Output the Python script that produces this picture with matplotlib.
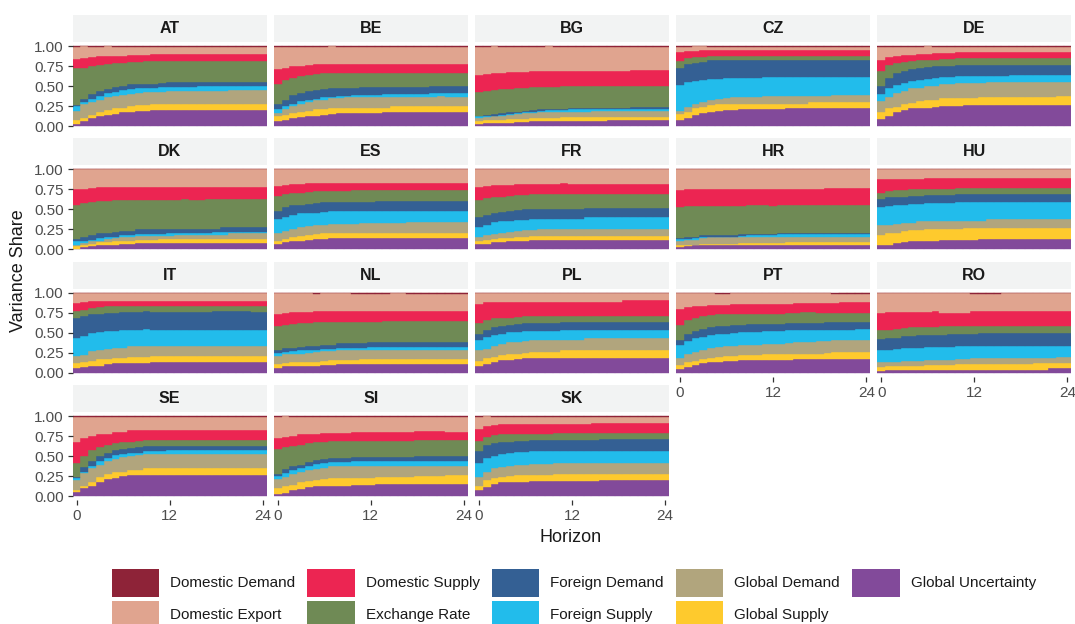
"""Forecast error variance decomposition by country, stacked by shock."""

import matplotlib.pyplot as plt
import numpy as np
from matplotlib.patches import Patch

plt.rcParams.update({
    "font.family": ["Liberation Sans", "DejaVu Sans"],
    "font.size": 11,
})

HORIZON = np.arange(25)

# Stacking order, bottom to top.
SHOCKS = [
    "Global Uncertainty", "Global Supply", "Global Demand", "Foreign Supply",
    "Foreign Demand", "Exchange Rate", "Domestic Supply", "Domestic Export",
    "Domestic Demand",
]
COLORS = {
    "Domestic Demand": "#8E2338",
    "Domestic Export": "#E0A48F",
    "Domestic Supply": "#EC2552",
    "Exchange Rate": "#6F8A55",
    "Foreign Demand": "#346094",
    "Foreign Supply": "#22BCEB",
    "Global Demand": "#B1A57D",
    "Global Supply": "#FECA2D",
    "Global Uncertainty": "#824A9A",
}

# Cumulative variance share (%) at horizons 0..24, read as the top of each
# band: Global Uncertainty, +Global Supply, +Global Demand, +Foreign Supply,
# +Foreign Demand, +Exchange Rate, +Domestic Supply, +Domestic Export.
# Domestic Demand fills the rest up to 100.
AT = [
    "3 6 10 12 14 15 17 18 19 19 20 20 20 20 20 20 20 20 20 20 20 20 20 20 20",
    "7 10 14 17 20 22 23 25 26 26 27 27 27 27 27 28 28 28 28 28 28 28 28 28 28",
    "19 27 30 33 36 37 39 40 41 42 43 43 44 44 44 44 44 44 44 44 45 45 45 45 45",
    "25 30 34 37 41 43 45 46 47 48 48 49 49 49 49 49 50 50 50 50 50 50 50 50 50",
    "26 34 40 44 46 49 50 52 52 53 53 54 55 55 55 55 55 55 55 55 55 55 55 55 55",
    "72 73 75 76 77 79 79 80 80 81 81 81 81 81 81 81 81 81 81 81 81 81 81 81 81",
    "84 85 86 87 87 88 88 89 89 89 90 90 90 90 90 90 90 90 90 90 90 90 90 90 90",
    "99 100 99 99 100 99 99 99 99 99 99 99 99 99 99 99 99 99 99 99 99 99 99 99 99",
]
BE = [
    "6 8 10 11 13 13 14 15 16 16 16 16 16 16 17 17 17 17 17 17 17 17 17 17 17",
    "13 14 16 18 19 21 21 22 23 23 23 23 23 23 23 25 25 25 25 25 25 25 25 25 25",
    "16 21 25 28 30 33 33 35 35 36 36 36 36 36 36 36 36 36 36 36 36 37 36 36 36",
    "21 25 28 31 33 34 36 36 38 38 39 39 39 39 40 40 40 40 40 40 41 41 41 41 41",
    "27 33 39 41 44 45 46 47 48 48 48 49 49 49 49 49 49 49 49 49 50 50 50 50 50",
    "53 58 60 63 64 65 66 66 66 66 66 66 66 66 66 66 66 66 66 66 66 66 66 66 66",
    "71 72 75 75 76 77 77 77 77 77 77 77 78 78 78 78 78 78 78 78 78 78 78 78 78",
    "99 99 99 99 99 99 99 100 99 99 99 99 99 99 99 99 99 99 99 99 99 99 99 99 99",
]
BG = [
    "3 4 4 4 4 5 5 6 6 6 6 6 6 6 6 6 6 7 7 7 7 7 7 7 7",
    "6 7 8 8 9 9 9 10 10 10 10 11 11 11 11 11 11 11 11 11 11 11 11 11 11",
    "10 11 12 13 14 15 16 16 17 17 17 18 18 18 18 19 19 19 19 19 19 19 19 19 19",
    "12 12 13 14 15 16 17 18 19 20 20 20 21 21 21 21 21 21 21 21 21 21 21 21 21",
    "13 14 15 16 17 18 19 20 21 21 21 21 22 22 22 22 23 23 23 23 24 24 24 24 24",
    "43 44 45 46 46 47 48 49 49 49 49 50 50 50 50 50 50 50 50 50 50 50 50 50 50",
    "64 65 66 66 67 67 68 69 69 69 69 69 69 69 69 69 69 69 69 69 70 70 70 70 70",
    "99 99 100 99 99 99 99 99 99 100 99 99 99 99 99 99 99 99 99 99 99 99 99 99 99",
]
CZ = [
    "8 10 14 16 18 19 20 20 21 21 21 21 21 21 22 22 22 22 22 22 22 22 22 22 22",
    "15 18 22 24 26 27 28 28 28 28 28 28 28 28 28 28 28 30 30 30 30 30 30 30 30",
    "19 24 28 30 33 34 35 36 36 36 36 38 38 38 38 38 38 38 38 38 39 39 39 39 39",
    "51 55 56 58 59 59 60 60 60 60 60 61 61 61 61 61 61 61 61 61 61 61 61 61 61",
    "73 78 79 80 82 82 82 82 82 82 82 82 82 82 82 82 82 82 82 82 82 82 82 82 82",
    "81 85 86 86 88 88 88 88 88 88 88 88 88 88 88 88 88 88 88 88 88 88 88 88 88",
    "93 94 94 95 95 95 95 95 95 95 95 95 95 95 95 95 95 95 95 95 95 95 95 95 95",
    "99 99 100 100 99 99 99 99 99 99 99 99 99 99 99 99 99 99 99 99 99 99 99 99 99",
]
DE = [
    "9 13 18 20 22 22 23 24 25 25 25 26 26 26 26 26 26 26 26 26 26 26 26 26 26",
    "17 22 24 28 29 31 33 33 35 35 35 35 35 36 36 36 36 36 36 36 36 36 36 38 38",
    "31 36 41 44 48 48 50 50 53 53 54 54 54 54 55 55 55 55 55 55 55 55 55 55 55",
    "40 47 51 54 56 58 59 60 61 61 63 63 63 63 63 63 63 64 64 64 64 64 64 64 64",
    "50 60 66 69 71 73 74 75 75 75 76 76 76 76 76 76 76 76 76 76 76 76 76 76 76",
    "69 76 79 80 81 83 83 83 84 84 85 85 85 85 85 85 85 85 85 85 85 85 85 85 85",
    "83 86 88 89 89 90 90 91 91 91 92 92 92 92 92 92 92 92 92 92 92 92 92 92 92",
    "99 99 99 99 99 99 100 99 99 99 99 99 99 99 99 99 99 99 99 99 99 99 99 99 99",
]
DK = [
    "1 3 4 5 6 6 7 7 8 8 8 8 8 8 8 8 8 8 8 8 8 8 8 8 8",
    "4 5 7 9 9 10 10 11 12 12 12 13 13 13 13 13 13 13 13 13 13 13 13 13 13",
    "6 8 10 11 13 14 15 16 17 17 17 17 17 18 18 18 18 18 18 18 20 20 20 20 20",
    "10 11 12 14 15 16 18 18 19 19 19 19 20 20 20 20 20 20 22 22 22 22 22 22 22",
    "13 15 18 21 21 22 23 23 25 25 25 25 25 26 26 26 26 26 26 28 28 28 28 28 28",
    "56 58 59 60 61 62 62 62 62 62 62 62 62 62 63 62 62 63 63 63 63 63 63 63 63",
    "76 76 77 78 78 78 78 78 78 78 78 78 78 78 78 78 78 78 78 78 78 78 78 78 78",
    "100 100 100 100 100 100 100 100 100 100 100 100 100 100 100 100 100 100 100 100 100 100 100 100 100",
]
ES = [
    "7 9 11 11 12 13 13 14 14 14 14 14 14 14 14 14 14 14 14 14 14 14 14 14 14",
    "11 13 16 17 18 19 20 20 20 20 20 20 20 20 21 21 21 21 21 21 21 21 21 21 21",
    "21 23 26 28 29 30 31 32 32 32 32 33 33 33 33 33 33 34 34 34 34 34 34 34 34",
    "38 41 43 45 46 46 47 48 48 48 48 48 48 48 48 48 48 48 48 48 48 48 48 48 48",
    "48 53 56 56 57 58 59 59 59 59 59 59 59 60 60 60 60 61 61 61 61 61 61 61 61",
    "67 69 71 71 72 73 73 73 73 73 74 74 74 74 74 74 74 74 74 74 74 74 74 74 74",
    "79 81 82 82 83 83 83 83 83 83 83 83 83 83 83 83 83 83 83 83 83 83 83 83 83",
    "100 100 100 100 100 100 100 100 100 100 100 100 100 100 100 100 100 100 100 100 100 100 100 100 100",
]
FR = [
    "7 7 9 9 11 11 11 12 12 12 12 12 12 12 12 12 12 12 12 12 12 12 12 12 12",
    "11 12 13 14 14 16 16 17 17 17 17 17 17 17 17 17 17 17 17 17 17 17 17 17 17",
    "16 18 19 21 22 23 24 24 26 26 26 26 26 26 26 26 26 26 26 26 26 26 26 26 26",
    "28 31 34 35 36 37 37 38 38 38 38 38 38 38 40 40 40 40 40 40 40 40 40 40 40",
    "40 43 46 47 48 49 50 51 51 51 51 51 51 51 52 52 52 52 52 52 52 52 52 52 52",
    "62 64 66 66 67 68 68 69 69 69 69 69 69 69 69 69 69 69 69 69 69 69 69 69 69",
    "78 79 80 80 80 82 82 82 82 82 82 83 82 82 82 82 82 82 82 82 82 82 82 82 82",
    "100 100 100 100 100 100 100 100 100 100 100 100 100 100 100 100 100 100 100 100 100 100 100 100 100",
]
HR = [
    "3 4 5 6 6 6 6 6 6 6 6 6 6 6 6 6 6 6 6 6 6 6 6 6 6",
    "5 6 6 7 7 7 7 7 8 8 8 8 8 8 9 9 9 9 9 9 9 9 9 9 9",
    "11 12 12 14 15 15 15 15 16 16 16 16 16 16 16 16 16 16 16 16 16 16 16 16 16",
    "13 13 14 16 16 16 16 16 17 18 18 18 18 19 19 19 19 19 19 19 19 19 19 19 19",
    "14 15 16 18 18 18 18 18 19 19 19 19 19 20 20 20 20 20 20 20 21 21 21 21 21",
    "53 54 54 54 54 54 54 54 54 55 55 55 54 56 56 56 56 56 56 56 56 56 56 56 56",
    "74 76 76 76 76 76 76 76 76 76 76 76 76 76 76 76 76 76 76 77 77 77 77 77 77",
    "100 100 100 100 100 100 100 100 100 100 100 100 100 100 100 100 100 100 100 100 100 100 100 100 100",
]
HU = [
    "5 6 8 9 10 10 11 11 12 12 12 12 12 13 13 13 13 13 13 13 13 13 13 13 13",
    "18 21 21 23 24 24 25 26 26 26 26 27 27 27 27 27 27 27 27 27 27 27 27 27 27",
    "30 31 32 33 33 35 36 36 36 36 36 36 36 36 38 38 38 38 38 38 38 38 38 38 38",
    "53 54 56 56 57 57 58 58 58 58 59 59 59 59 59 59 59 59 59 59 59 59 59 59 59",
    "63 65 66 66 67 67 68 68 68 68 69 69 69 69 69 69 69 69 69 69 69 69 69 69 69",
    "71 73 74 74 75 76 76 76 76 76 77 77 77 77 77 77 77 77 77 77 77 77 77 77 77",
    "88 88 88 88 88 88 89 89 89 89 89 89 89 89 89 89 89 89 89 89 89 89 89 89 89",
    "100 100 100 100 100 100 100 100 100 100 100 100 100 100 100 100 100 100 100 100 100 100 100 100 100",
]
IT = [
    "6 7 9 9 11 12 12 12 12 12 14 14 14 14 14 14 14 14 14 14 14 14 14 14 14",
    "12 13 15 17 17 19 19 20 20 20 21 21 21 21 21 21 21 21 21 21 21 21 21 21 21",
    "21 22 27 29 30 31 31 33 33 33 34 34 34 34 34 34 34 34 34 34 34 34 34 34 34",
    "44 46 50 51 52 52 54 54 54 55 54 54 54 54 54 54 54 54 54 54 54 54 54 54 54",
    "69 71 74 74 75 75 76 76 76 77 76 76 76 76 76 76 76 76 77 77 77 77 77 76 76",
    "77 79 81 82 83 83 84 84 84 84 84 84 84 84 84 84 84 84 84 84 84 84 84 84 84",
    "87 88 90 90 90 90 90 90 90 90 90 90 90 90 90 90 90 90 90 90 90 90 90 90 90",
    "100 100 100 100 100 100 100 100 100 100 100 100 100 100 100 100 100 100 100 100 100 100 100 100 100",
]
NL = [
    "6 8 9 9 9 9 10 10 11 11 11 11 11 11 11 11 11 11 11 11 11 11 11 11 11",
    "11 12 13 13 13 14 15 16 16 16 16 17 17 17 17 17 17 17 17 17 17 17 17 17 17",
    "21 23 24 24 25 26 27 27 28 28 28 29 29 29 29 29 29 29 29 29 29 29 29 29 29",
    "25 26 27 28 28 29 30 30 31 31 31 31 32 32 32 32 32 32 32 32 32 32 32 32 32",
    "28 31 31 32 33 33 35 35 37 37 37 37 38 38 38 38 38 39 39 39 39 39 39 39 39",
    "59 60 61 62 62 64 64 64 64 64 64 64 64 64 65 65 65 65 65 65 65 65 65 65 65",
    "74 75 76 76 76 77 77 77 77 77 77 77 77 77 77 77 77 77 77 77 77 77 77 77 77",
    "100 100 100 100 100 99 100 100 100 100 99 99 99 99 99 100 100 99 99 99 99 99 99 99 99",
]
PL = [
    "8 11 14 16 16 17 18 19 19 19 19 19 19 19 19 19 19 19 19 19 19 19 19 19 19",
    "15 18 20 22 23 24 25 26 26 26 26 28 28 28 28 28 28 28 28 28 28 28 28 28 28",
    "28 30 34 36 38 39 40 41 41 41 41 41 41 41 43 43 43 43 43 43 43 43 43 43 43",
    "41 45 47 49 51 51 52 52 52 52 52 53 53 53 53 54 54 54 54 54 54 54 54 54 54",
    "48 53 57 59 60 61 62 62 62 62 62 63 63 63 63 63 63 63 63 63 63 63 63 63 63",
    "62 66 68 68 69 70 71 71 71 71 71 71 71 71 71 71 71 71 71 71 71 71 71 71 71",
    "86 88 89 89 89 89 89 89 89 89 89 89 89 89 89 89 89 89 89 91 91 91 91 91 91",
    "100 100 100 100 100 100 100 100 100 100 100 100 100 100 100 100 100 100 100 100 100 100 100 100 100",
]
PT = [
    "5 7 10 12 13 14 15 15 16 16 16 16 16 16 16 17 17 17 17 17 17 17 17 17 17",
    "10 13 15 17 19 20 21 21 22 22 22 23 23 23 23 24 24 24 24 25 26 26 26 26 26",
    "19 23 26 29 31 32 33 34 35 35 35 36 36 36 37 38 39 39 40 40 41 41 41 41 41",
    "35 40 43 45 47 48 49 50 51 51 51 52 52 52 53 53 53 54 54 54 54 54 54 55 55",
    "41 48 52 55 57 58 59 60 60 61 61 61 61 61 62 62 62 62 62 63 63 63 63 63 63",
    "60 66 69 71 72 73 73 74 74 74 74 74 74 74 75 75 76 76 75 75 75 75 75 75 75",
    "80 82 84 84 85 85 85 86 86 86 86 86 86 86 86 87 87 87 87 87 87 88 88 88 88",
    "100 100 100 100 100 99 99 100 100 100 100 100 100 100 100 100 100 100 100 100 99 99 99 99 99",
]
RO = [
    "2 3 3 3 3 3 3 4 4 4 4 4 4 4 4 4 4 4 4 4 4 4 6 6 6",
    "7 8 8 9 9 9 10 10 10 10 11 11 11 11 11 11 11 11 11 11 12 12 12 12 12",
    "14 14 14 15 15 15 16 16 16 16 17 17 18 19 19 19 19 19 19 19 19 19 19 20 20",
    "28 29 30 31 31 31 32 32 32 32 33 33 33 33 33 33 33 33 33 34 34 33 33 33 33",
    "42 44 44 46 46 47 47 47 47 48 48 48 48 50 50 50 50 50 50 50 50 50 50 50 50",
    "53 54 55 56 57 57 57 57 58 58 58 58 58 58 58 58 58 58 58 58 58 58 58 58 58",
    "75 76 76 76 76 76 76 77 75 75 75 75 77 77 77 77 77 77 77 77 77 77 77 77 77",
    "100 100 100 100 100 100 100 100 100 100 100 100 99 99 99 99 100 100 100 100 100 100 100 100 100",
]
SE = [
    "5 10 13 18 21 23 25 26 26 26 26 26 26 26 26 26 26 26 26 26 26 26 26 26 26",
    "8 13 18 24 27 30 30 32 33 35 35 35 35 35 35 35 35 35 35 35 35 35 35 35 35",
    "20 29 35 39 44 46 49 50 51 52 52 52 52 53 53 53 53 53 53 53 53 53 53 53 53",
    "22 30 38 44 48 51 53 54 54 56 56 56 57 57 57 57 57 57 57 57 58 58 58 58 58",
    "24 36 44 50 54 58 59 60 61 62 62 62 62 63 63 63 63 63 63 63 62 62 62 62 62",
    "41 50 57 61 64 66 68 68 69 70 70 70 70 70 70 70 70 70 70 70 70 70 70 70 70",
    "67 72 75 77 78 80 80 82 83 83 82 82 83 83 83 83 83 83 83 83 83 83 83 83 83",
    "99 99 99 99 99 99 99 99 99 99 99 99 99 99 99 99 99 99 99 99 99 99 99 99 99",
]
SI = [
    "3 4 7 9 11 12 13 13 13 13 14 14 14 15 15 15 15 15 15 15 15 15 15 15 15",
    "10 12 14 17 19 20 21 22 22 22 23 23 23 24 24 24 24 24 25 25 25 25 26 26 26",
    "21 24 27 30 32 34 35 37 37 37 37 37 37 38 38 38 38 38 38 38 38 38 38 38 38",
    "25 29 32 35 38 40 41 43 43 43 44 44 44 44 44 44 44 44 44 44 44 44 44 44 44",
    "28 34 37 39 43 45 46 47 47 47 49 49 49 49 49 49 49 49 50 50 50 50 50 50 50",
    "59 61 63 64 66 67 68 69 69 69 69 69 69 69 69 69 69 69 70 70 70 70 70 70 70",
    "72 74 75 77 78 78 79 79 79 79 80 80 80 80 80 80 80 80 81 81 81 81 80 80 80",
    "99 100 99 99 99 99 99 99 99 99 99 99 99 99 99 99 99 99 99 99 99 99 99 99 99",
]
SK = [
    "7 11 15 17 18 18 18 19 19 19 19 19 19 19 19 19 20 20 20 20 20 20 20 20 20",
    "13 20 23 24 25 26 26 26 26 26 28 28 28 28 28 28 28 28 28 28 28 28 28 28 28",
    "24 30 35 36 37 39 39 40 40 40 41 41 41 41 41 41 41 41 41 41 41 41 41 41 41",
    "41 48 50 53 54 55 55 56 56 56 56 56 56 56 56 56 56 56 56 56 56 56 56 56 56",
    "56 64 66 67 68 69 69 70 70 70 70 70 70 70 70 70 71 71 71 71 71 71 71 71 71",
    "69 74 76 77 77 78 78 78 78 78 79 79 79 79 79 79 79 79 79 79 79 79 79 79 79",
    "84 87 89 90 90 90 90 90 90 90 90 90 90 90 90 91 91 91 91 91 91 91 91 91 91",
    "99 100 99 99 99 99 99 99 99 99 99 99 99 99 99 99 99 99 99 99 99 99 99 99 99",
]

COUNTRIES = ["AT", "BE", "BG", "CZ", "DE", "DK", "ES", "FR", "HR", "HU",
             "IT", "NL", "PL", "PT", "RO", "SE", "SI", "SK"]
LEVELS = dict(zip(COUNTRIES, [AT, BE, BG, CZ, DE, DK, ES, FR, HR, HU,
                              IT, NL, PL, PT, RO, SE, SI, SK]))

W, H = 1075, 624
NCOL = 5
PANEL_W, PANEL_H = 194, 88
STRIP_H = 27
X0, DX = 72.7, 201.15
Y0, DY = 42, 123.35

TICK_COLOR = "#333333"
TEXT_COLOR = "#4D4D4D"


def shares(rows):
    cum = np.vstack([np.zeros(len(HORIZON))]
                    + [np.array(r.split(), dtype=float) / 100 for r in rows]
                    + [np.ones(len(HORIZON))])
    return cum[:-1], np.diff(cum, axis=0)


def box(left, top, width, height):
    return [left / W, 1 - (top + height) / H, width / W, height / H]


fig = plt.figure(figsize=(W / 100, H / 100), dpi=100)
n = len(COUNTRIES)

for i, country in enumerate(COUNTRIES):
    row, col = divmod(i, NCOL)
    left = X0 + col * DX
    top = Y0 + row * DY

    ax = fig.add_axes(box(left, top, PANEL_W, PANEL_H))
    bottoms, parts = shares(LEVELS[country])
    for k, shock in enumerate(SHOCKS):
        ax.bar(HORIZON, parts[k], bottom=bottoms[k], width=1.0,
               color=COLORS[shock], edgecolor=COLORS[shock], linewidth=0.3)
    ax.set_xlim(-0.5, 24.5)
    ax.set_ylim(-0.05, 1.05)
    for s in ax.spines.values():
        s.set_visible(False)

    bottom_row = i + NCOL >= n
    ax.set_xticks([0, 12, 24])
    ax.set_yticks([0, 0.25, 0.5, 0.75, 1.0])
    ax.tick_params(length=3.5, width=0.9, color=TICK_COLOR, labelsize=11,
                   labelcolor=TEXT_COLOR, pad=3)
    if not bottom_row:
        ax.tick_params(axis="x", length=0, labelbottom=False)
    if col != 0:
        ax.tick_params(axis="y", length=0, labelleft=False)
    else:
        ax.set_yticklabels(["0.00", "0.25", "0.50", "0.75", "1.00"])

    strip = fig.add_axes(box(left, top - STRIP_H, PANEL_W, STRIP_H))
    strip.set_facecolor("#F2F3F3")
    strip.set_xticks([])
    strip.set_yticks([])
    for s in strip.spines.values():
        s.set_visible(False)
    strip.text(0.5, 0.5, country, ha="center", va="center", fontsize=11.5,
               fontweight="bold", color="#1A1A1A", transform=strip.transAxes)

fig.text(571 / W, 1 - 537 / H, "Horizon", ha="center", va="center",
         fontsize=13, color="#1A1A1A")
fig.text(19 / W, 1 - 271 / H, "Variance Share", ha="center", va="center",
         rotation=90, fontsize=13, color="#1A1A1A")

legend_order = sorted(SHOCKS)
handles = [Patch(facecolor=COLORS[s], edgecolor="none") for s in legend_order]
fig.legend(handles, legend_order, ncol=5, loc="upper left",
           bbox_to_anchor=(104 / W, 1 - 561 / H), frameon=False, fontsize=11,
           handlelength=3.1, handleheight=2.45, handletextpad=0.72,
           columnspacing=0.8, labelspacing=0.25, borderpad=0,
           labelcolor="#1A1A1A")

fig.savefig("out.png", dpi=100)
